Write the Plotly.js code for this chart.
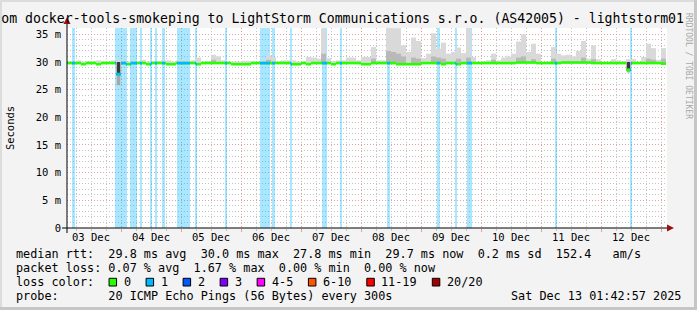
<!DOCTYPE html>
<html><head><meta charset="utf-8">
<script src="https://cdn.plot.ly/plotly-3.0.1.min.js"></script>
<style>html,body{margin:0;padding:0;background:#f3f3f3;}#chart{width:697px;height:310px;}</style>
</head><body><div id="chart"></div>
<script>
// ---------------- data ----------------
const rangeStart = '2025-12-03 02:24';
const rangeEnd   = '2025-12-13 02:24';
const binStart   = '2025-12-03 02:00';
const binHours   = 2;

// median RTT per 2-hour bin (ms)
const medianMs = [
29.8,29.8,29.8,29.6,29.8,29.8,29.6,29.8,29.8,29.8,
27.8,29.8,29.6,29.8,29.8,29.8,29.6,29.8,29.8,29.8,
29.6,29.6,29.8,29.8,29.8,29.8,29.6,29.8,29.8,29.8,
29.8,29.8,29.8,29.6,29.6,29.6,29.6,29.8,29.8,29.8,
29.8,29.8,29.8,29.8,29.8,29.6,29.6,29.8,29.6,29.8,
29.8,29.8,29.8,29.6,29.8,29.8,29.8,29.8,29.8,29.6,
29.6,29.8,29.8,29.8,29.8,29.8,29.6,29.6,29.6,29.6,
29.6,29.8,29.8,29.8,29.8,29.6,29.8,29.8,29.6,29.8,
29.8,29.8,29.8,29.8,29.8,29.8,29.8,29.8,29.8,29.8,
29.9,29.9,29.9,29.9,29.8,29.8,29.8,29.8,29.8,29.9,
29.9,29.9,29.9,29.9,29.9,29.8,29.8,29.8,29.8,29.8,
29.8,29.8,28.6,29.8,29.8,29.8,29.8,29.8,29.8,29.7];

// highest ping per bin (ms) - light smoke
const smokeMaxMs = [
30.1,30.1,30.3,30.1,30.1,30.1,30.3,30.1,30.1,30.3,
30.3,30.1,30.1,30.2,30.1,30.4,30.1,30.1,30.2,30.3,
30.3,30.1,30.3,30.2,30.2,30.3,30.8,30.1,30.2,31.3,
31.0,30.3,30.1,30.1,30.1,30.2,30.2,30.1,30.1,30.3,
31.2,30.9,30.1,30.3,30.3,30.3,30.1,30.1,30.9,30.8,
30.6,36.0,30.7,30.2,30.3,30.3,30.8,30.8,30.3,30.9,
30.9,32.7,30.3,30.3,36.1,36.1,36.1,33.0,31.8,34.4,
33.8,30.7,31.5,35.2,32.4,33.5,31.5,31.8,32.6,31.6,
36.1,30.9,30.0,30.1,30.3,31.5,30.3,30.8,31.0,31.5,
33.7,35.0,31.8,33.3,31.5,30.0,30.1,32.7,31.5,31.2,
31.3,31.0,32.0,33.8,30.6,33.0,30.5,30.0,30.0,30.5,
30.3,30.1,30.5,30.5,30.0,30.9,33.3,32.5,30.4,32.5];

// denser middle smoke (bin index, top in ms)
const smokeMidBins = [29,40,51,61,64,65,66,67,69,70,73,74,75,78,80,85,90,91,93,97,103,105,116,117,119];
const smokeMidMs   = [30.4,30.4,31.5,30.6,32.0,31.8,31.5,31.0,30.8,30.6,31.0,30.8,30.6,30.6,30.8,30.4,30.8,31.0,30.5,30.6,30.8,30.5,30.6,30.4,30.6];

// dense smoke above a median dip, and low pings below it
const denseBins  = [10,112];
const denseTopMs = [30.0,30.0];
const lowBins    = [10,112];
const smokeMinMs = [25.8,28.1];

// packet-loss periods (pings lost out of 20)
const lossStart = ['2025-12-03 04:24','2025-12-03 21:36','2025-12-04 03:36','2025-12-04 07:36','2025-12-04 11:36',
  '2025-12-04 13:36','2025-12-04 16:24','2025-12-04 22:24','2025-12-05 05:36','2025-12-05 17:36','2025-12-06 07:36',
  '2025-12-06 12:24','2025-12-06 19:36','2025-12-07 08:24','2025-12-07 15:36','2025-12-08 10:24','2025-12-09 06:24',
  '2025-12-09 13:36','2025-12-09 18:24','2025-12-11 05:36','2025-12-12 11:36'];
const lossEnd = ['2025-12-03 05:36','2025-12-04 02:24','2025-12-04 06:24','2025-12-04 08:24','2025-12-04 12:24',
  '2025-12-04 14:24','2025-12-04 17:36','2025-12-05 03:36','2025-12-05 06:24','2025-12-05 18:24','2025-12-06 11:36',
  '2025-12-06 13:36','2025-12-06 20:24','2025-12-07 10:24','2025-12-07 16:24','2025-12-08 11:36','2025-12-09 07:36',
  '2025-12-09 14:24','2025-12-09 20:24','2025-12-11 06:24','2025-12-12 12:24'];
const lossPings = [1,1,1,1,1,1,1,1,1,1,1,1,1,1,1,1,1,1,1,1,1];

const dayTickVals = ['2025-12-03 12:00','2025-12-04 12:00','2025-12-05 12:00','2025-12-06 12:00','2025-12-07 12:00',
  '2025-12-08 12:00','2025-12-09 12:00','2025-12-10 12:00','2025-12-11 12:00','2025-12-12 12:00'];
const dayTickText = ['03 Dec','04 Dec','05 Dec','06 Dec','07 Dec','08 Dec','09 Dec','10 Dec','11 Dec','12 Dec'];
const yTickVals = [0,5,10,15,20,25,30,35];
const yTickText = ['0','5 m','10 m','15 m','20 m','25 m','30 m','35 m'];

const lossLabels = ['0','1','2','3','4-5','6-10','11-19','20/20'];
const lossColors = ['#26ff00','#00b8ff','#0059ff','#7e00ff','#ff00ff','#ff5500','#ff0000','#a10000'];

const titleText = 'om docker-tools-smokeping to LightStorm Communications s.r.o. (AS42005) - lightstorm01';
const statLines = [
  'median rtt:  29.8 ms avg  30.0 ms max  27.8 ms min  29.7 ms now  0.2 ms sd  152.4   am/s',
  'packet loss: 0.07 % avg  1.67 % max  0.00 % min  0.00 % now',
  'loss color:',
  'probe:       20 ICMP Echo Pings (56 Bytes) every 300s'];
const stampText = 'Sat Dec 13 01:42:57 2025';
const sideText = 'RRDTOOL / TOBI OETIKER';

// ---------------- build ----------------
function toMs(s){const [d,t]=s.split(' ');const [Y,M,D]=d.split('-').map(Number);const [h,m]=(t||'0:0').split(':').map(Number);return Date.UTC(Y,M-1,D,h,m);}
const HOUR = 3600000, binMs = binHours*HOUR, b0 = toMs(binStart);
const xC = i => b0 + (i+0.5)*binMs;
const yMax = 36.14;
const MONO = 'DejaVu Sans Mono';
const idx = medianMs.map((_,i)=>i);

const traces = [];
// loss background
traces.push({type:'bar', x: lossStart.map((s,k)=>(toMs(s)+toMs(lossEnd[k]))/2),
  width: lossStart.map((s,k)=>toMs(lossEnd[k])-toMs(s)), base: 0, y: lossStart.map(()=>yMax),
  marker:{color: lossPings.map(n=>lossColors[n]), opacity:0.34, line:{width:0}}, hoverinfo:'skip'});
// light smoke
traces.push({type:'bar', x: idx.map(xC), width: binMs, base: medianMs, y: idx.map(i=>smokeMaxMs[i]-medianMs[i]),
  marker:{color:'#d9d9d9', line:{width:0}}, hoverinfo:'skip'});
// middle smoke
traces.push({type:'bar', x: smokeMidBins.map(xC), width: binMs, base: smokeMidBins.map(i=>medianMs[i]),
  y: smokeMidBins.map((i,k)=>smokeMidMs[k]-medianMs[i]), marker:{color:'#b9b9b9', line:{width:0}}, hoverinfo:'skip'});
// dense smoke
traces.push({type:'bar', x: denseBins.map(xC), width: binMs*0.7, base: denseBins.map(i=>medianMs[i]),
  y: denseBins.map((i,k)=>denseTopMs[k]-medianMs[i]), marker:{color:'#3a3a3a', line:{width:0}}, hoverinfo:'skip'});
// low smoke
traces.push({type:'bar', x: lowBins.map(xC), width: binMs*0.7, base: lowBins.map((i,k)=>smokeMinMs[k]),
  y: lowBins.map((i,k)=>medianMs[i]-smokeMinMs[k]), marker:{color:'#a8a8a8', line:{width:0}}, hoverinfo:'skip'});
// median (green, no loss)
const mh = 0.48;
traces.push({type:'bar', x: idx.map(xC), width: binMs, base: medianMs.map(v=>v-mh/2), y: idx.map(()=>mh),
  marker:{color: lossColors[0], line:{width:0}}, hoverinfo:'skip'});
// median segments coloured by loss
const segX=[], segW=[], segB=[], segC=[];
lossStart.forEach((s,k)=>{
  const a=toMs(s), e=toMs(lossEnd[k]);
  idx.forEach(i=>{
    const bs=b0+i*binMs, be=bs+binMs;
    const lo=Math.max(a,bs), hi=Math.min(e,be);
    if(hi>lo){segX.push((lo+hi)/2); segW.push(hi-lo); segB.push(medianMs[i]-mh/2); segC.push(lossColors[lossPings[k]]);}
  });
});
traces.push({type:'bar', x: segX, width: segW, base: segB, y: segX.map(()=>mh),
  marker:{color: segC, line:{width:0}}, hoverinfo:'skip'});
// carrier for the day-label axis
traces.push({type:'scatter', mode:'markers', x:[], y:[], xaxis:'x2', yaxis:'y', hoverinfo:'skip', showlegend:false});

// pixel helpers (plot area: x 67..667, y 28..228)
const PX = px => (px-67)/600, PY = py => (228-py)/200;
const CW = 7.12, X0 = 16;
const NB = s => s.replace(/ /g,'\u00a0');

const annotations = [];
const rowsY = [254.3, 268.3, 282.3, 296.3];
statLines.forEach((t,r)=>annotations.push({xref:'paper', yref:'paper', x:PX(X0-1), y:PY(rowsY[r]), text:NB(t),
  showarrow:false, xanchor:'left', yanchor:'middle', borderpad:0, font:{family:MONO, size:11.8, color:'#000'}}));
annotations.push({xref:'paper', yref:'paper', x:PX(682), y:PY(rowsY[3]), text:NB(stampText), showarrow:false,
  xanchor:'right', yanchor:'middle', borderpad:0, font:{family:MONO, size:11.8, color:'#000'}});
annotations.push({xref:'paper', yref:'paper', x:PX(688), y:PY(66), text:NB(sideText), showarrow:false, textangle:90,
  xanchor:'center', yanchor:'middle', borderpad:0, font:{family:MONO, size:8, color:'#a8a8a8'}});

const shapes = [];
// frame
shapes.push({type:'rect', xref:'paper', yref:'paper', x0:PX(0), x1:PX(697), y0:PY(0), y1:PY(2), fillcolor:'#dcdcdc', line:{width:0}, layer:'above'});
shapes.push({type:'rect', xref:'paper', yref:'paper', x0:PX(0), x1:PX(2), y0:PY(0), y1:PY(310), fillcolor:'#dcdcdc', line:{width:0}, layer:'above'});
shapes.push({type:'rect', xref:'paper', yref:'paper', x0:PX(0), x1:PX(697), y0:PY(307), y1:PY(310), fillcolor:'#c6c6c6', line:{width:0}, layer:'above'});
shapes.push({type:'rect', xref:'paper', yref:'paper', x0:PX(694), x1:PX(697), y0:PY(0), y1:PY(310), fillcolor:'#c6c6c6', line:{width:0}, layer:'above'});
// axis lines with arrows
shapes.push({type:'line', xref:'paper', yref:'paper', x0:PX(62), x1:PX(668), y0:PY(228), y1:PY(228), line:{color:'#000', width:1}, layer:'above'});
shapes.push({type:'line', xref:'paper', yref:'paper', x0:PX(67), x1:PX(67), y0:PY(233), y1:PY(22), line:{color:'#000', width:1}, layer:'above'});
shapes.push({type:'path', xref:'paper', yref:'paper', path:`M ${PX(674)} ${PY(228)} L ${PX(667)} ${PY(224.5)} L ${PX(667)} ${PY(231.5)} Z`, fillcolor:'#9a1010', line:{width:0}, layer:'above'});
shapes.push({type:'path', xref:'paper', yref:'paper', path:`M ${PX(67)} ${PY(17)} L ${PX(63.5)} ${PY(24)} L ${PX(70.5)} ${PY(24)} Z`, fillcolor:'#9a1010', line:{width:0}, layer:'above'});
// loss colour legend boxes
let col = 13;
lossLabels.forEach((lab,k)=>{
  const bx = X0 + col*CW + 0.5;
  shapes.push({type:'rect', xref:'paper', yref:'paper', x0:PX(bx), x1:PX(bx+7.5), y0:PY(278.3), y1:PY(286), fillcolor:lossColors[k], line:{color:'#000', width:1}, layer:'above'});
  annotations.push({xref:'paper', yref:'paper', x:PX(X0+(col+2.1)*CW-1), y:PY(rowsY[2]), text:NB(lab), showarrow:false,
    xanchor:'left', yanchor:'middle', borderpad:0, font:{family:MONO, size:11.8, color:'#000'}});
  col += 2.1 + lab.length + 2.1;
});

const redGrid = '#e2a0a0', grayGrid = '#c4c4c4';
const layout = {
  width:697, height:310, margin:{l:67, r:30, t:28, b:82, pad:0},
  paper_bgcolor:'#f3f3f3', plot_bgcolor:'#ffffff', showlegend:false, barmode:'overlay',
  title:{text:titleText, xref:'container', yref:'container', x:684/697, xanchor:'right', y:1-18/310, yanchor:'middle',
    font:{family:MONO, size:13.2, color:'#000'}},
  xaxis:{type:'date', range:[toMs(rangeStart), toMs(rangeEnd)], tick0:'2025-12-03', dtick:86400000, showticklabels:false,
    showgrid:true, gridcolor:redGrid, griddash:'1px,2px', gridwidth:1, ticks:'outside', ticklen:3, tickcolor:redGrid,
    zeroline:false, showline:false, fixedrange:true,
    minor:{tick0:'2025-12-03', dtick:6*HOUR, showgrid:true, gridcolor:grayGrid, griddash:'1px,2px', gridwidth:1, ticks:'outside', ticklen:2, tickcolor:grayGrid}},
  xaxis2:{type:'date', overlaying:'x', anchor:'y', side:'bottom', range:[toMs(rangeStart), toMs(rangeEnd)],
    tickmode:'array', tickvals:dayTickVals, ticktext:dayTickText, showgrid:false, zeroline:false, showline:false,
    ticks:'', ticklabelstandoff:1, tickfont:{family:MONO, size:10.5, color:'#000'}, fixedrange:true},
  yaxis:{range:[0,yMax], tickmode:'array', tickvals:yTickVals, ticktext:yTickText, showgrid:true, gridcolor:redGrid,
    griddash:'1px,2px', gridwidth:1, zeroline:false, showline:false, ticks:'', ticklabelstandoff:5,
    tickfont:{family:MONO, size:10.5, color:'#000'}, fixedrange:true,
    minor:{tick0:0, dtick:1, showgrid:true, gridcolor:grayGrid, griddash:'1px,2px', gridwidth:1},
    title:{text:'Seconds', standoff:19, font:{family:MONO, size:10.5, color:'#000'}}},
  shapes, annotations
};
Plotly.newPlot('chart', traces, layout, {staticPlot:true, displayModeBar:false});
</script></body></html>
